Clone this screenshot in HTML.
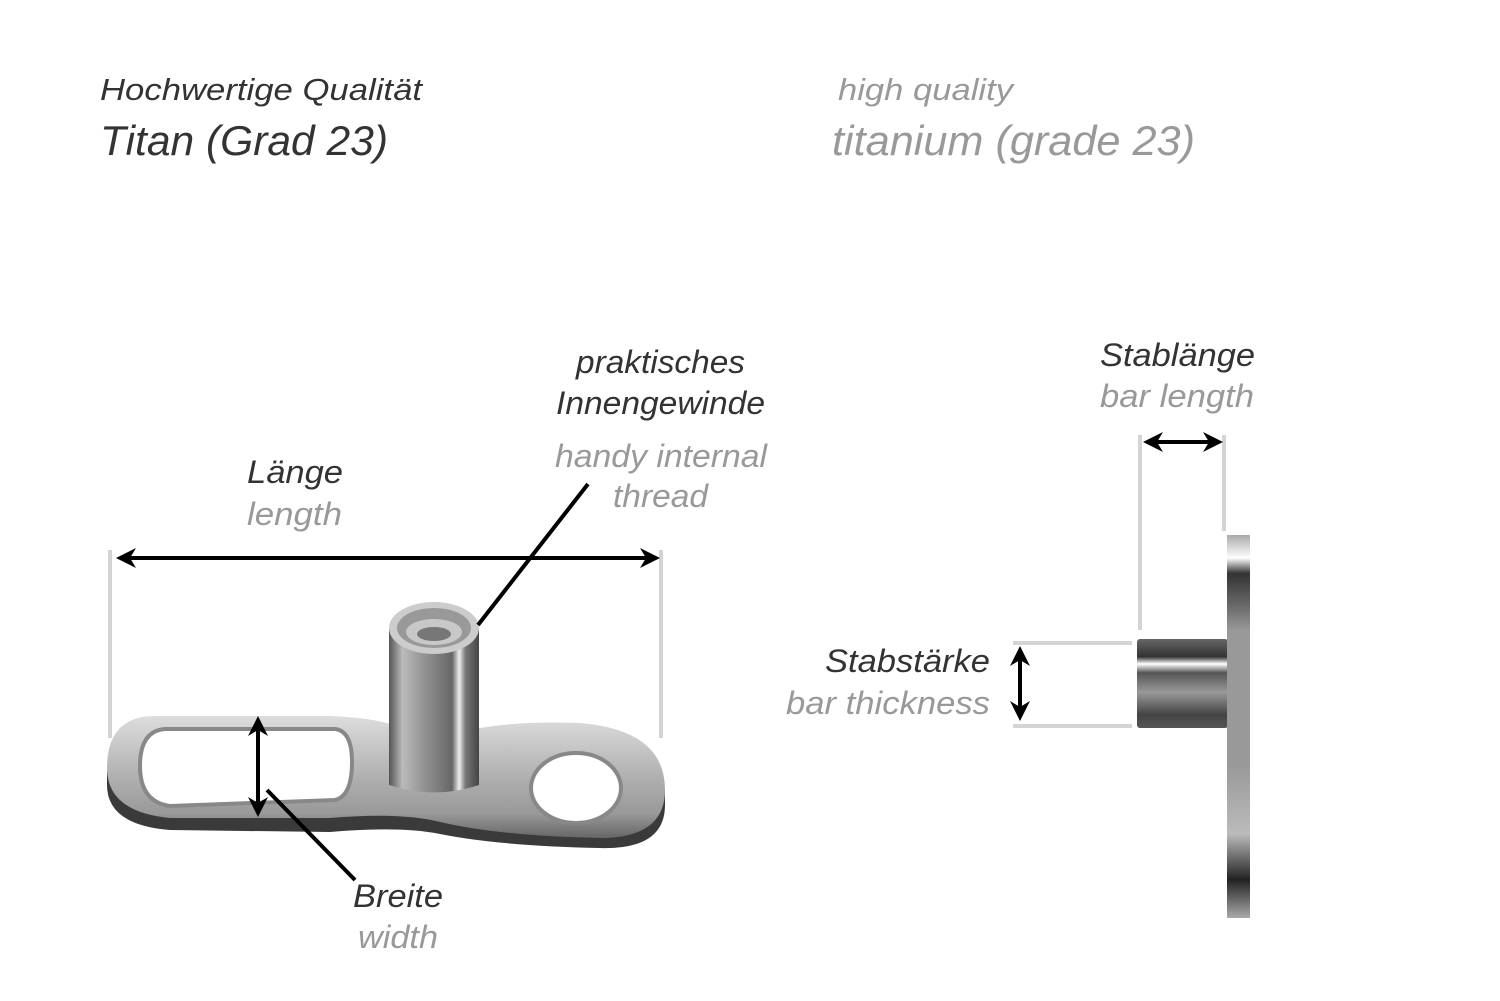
<!DOCTYPE html>
<html><head><meta charset="utf-8"><style>
html,body{margin:0;padding:0;background:#fff;}
svg{display:block;}
text{font-family:"Liberation Sans",sans-serif;font-style:italic;}
.d{fill:#333;}
.g{fill:#999;}
</style></head><body>
<svg width="1500" height="1001" viewBox="0 0 1500 1001" xmlns="http://www.w3.org/2000/svg">
<defs>
<linearGradient id="post" x1="0" x2="1" y1="0" y2="0">
<stop offset="0" stop-color="#555"/><stop offset="0.15" stop-color="#bbb"/><stop offset="0.35" stop-color="#999"/><stop offset="0.7" stop-color="#666"/><stop offset="0.78" stop-color="#eee"/><stop offset="0.85" stop-color="#777"/><stop offset="1" stop-color="#444"/>
</linearGradient>
<linearGradient id="plate" x1="0" x2="0" y1="0" y2="1">
<stop offset="0" stop-color="#ddd"/><stop offset="0.5" stop-color="#b0b0b0"/><stop offset="0.8" stop-color="#999"/><stop offset="1" stop-color="#666"/>
</linearGradient>
<linearGradient id="side" x1="0" x2="0" y1="0" y2="1">
<stop offset="0" stop-color="#aaa"/><stop offset="0.06" stop-color="#fff"/><stop offset="0.1" stop-color="#333"/><stop offset="0.18" stop-color="#666"/><stop offset="0.25" stop-color="#999"/><stop offset="0.6" stop-color="#999"/><stop offset="0.78" stop-color="#bbb"/><stop offset="0.9" stop-color="#222"/><stop offset="1" stop-color="#aaa"/>
</linearGradient>
<linearGradient id="bar" x1="0" x2="0" y1="0" y2="1">
<stop offset="0" stop-color="#666"/><stop offset="0.2" stop-color="#333"/><stop offset="0.28" stop-color="#fff"/><stop offset="0.38" stop-color="#555"/><stop offset="0.6" stop-color="#999"/><stop offset="0.85" stop-color="#444"/><stop offset="1" stop-color="#555"/>
</linearGradient>
<marker id="ah" viewBox="0 0 10 10" refX="8" refY="5" markerWidth="5" markerHeight="5" orient="auto-start-reverse"><path d="M0,0 L10,5 L0,10 L3,5 z" fill="#000"/></marker>
</defs>

<text class="d" x="100" y="100" font-size="31" textLength="322" lengthAdjust="spacingAndGlyphs">Hochwertige Qualität</text>
<text class="d" x="100" y="155" font-size="42" textLength="288" lengthAdjust="spacingAndGlyphs">Titan (Grad 23)</text>
<text class="g" x="838" y="100" font-size="31" textLength="175" lengthAdjust="spacingAndGlyphs">high quality</text>
<text class="g" x="832" y="155" font-size="42" textLength="363" lengthAdjust="spacingAndGlyphs">titanium (grade 23)</text>

<g font-size="32">
<text class="d" x="576" y="373" textLength="169" lengthAdjust="spacingAndGlyphs">praktisches</text>
<text class="d" x="556" y="414" textLength="209" lengthAdjust="spacingAndGlyphs">Innengewinde</text>
<text class="g" x="555" y="467" textLength="212" lengthAdjust="spacingAndGlyphs">handy internal</text>
<text class="g" x="613" y="507" textLength="95" lengthAdjust="spacingAndGlyphs">thread</text>
<text class="d" x="247" y="483" textLength="96" lengthAdjust="spacingAndGlyphs">Länge</text>
<text class="g" x="247" y="525" textLength="95" lengthAdjust="spacingAndGlyphs">length</text>
<text class="d" x="353" y="907" textLength="90" lengthAdjust="spacingAndGlyphs">Breite</text>
<text class="g" x="358" y="948" textLength="80" lengthAdjust="spacingAndGlyphs">width</text>
<text class="d" x="825" y="672" textLength="165" lengthAdjust="spacingAndGlyphs">Stabstärke</text>
<text class="g" x="786" y="714" textLength="204" lengthAdjust="spacingAndGlyphs">bar thickness</text>
<text class="d" x="1100" y="366" textLength="155" lengthAdjust="spacingAndGlyphs">Stablänge</text>
<text class="g" x="1100" y="407" textLength="154" lengthAdjust="spacingAndGlyphs">bar length</text>
</g>

<rect x="108" y="550" width="4" height="188" fill="#d4d4d4"/>
<rect x="659" y="550" width="4" height="188" fill="#d4d4d4"/>
<line x1="120" y1="558" x2="656" y2="558" stroke="#000" stroke-width="4" marker-start="url(#ah)" marker-end="url(#ah)"/>

<!-- base plate -->
<path d="M107,785 Q107,825 170,830 L330,832 Q400,826 440,834 Q500,846 600,848 Q665,850 665,805 L665,790 L107,772 Z" fill="#3a3a3a"/>
<path d="M155,716 L330,716 Q380,718 400,728 L480,728 Q520,721 580,723 Q665,730 665,790 Q665,838 600,838 Q500,836 440,822 Q400,812 330,818 L170,818 Q107,812 107,768 Q107,716 155,716 Z" fill="url(#plate)"/>
<path d="M165,729 L335,729 Q352,731 352,762 Q352,796 335,800 L170,806 Q140,802 140,766 Q140,731 165,729 Z" fill="#fff" stroke="#888" stroke-width="4"/>
<ellipse cx="576" cy="788" rx="45" ry="35" fill="#fff" stroke="#888" stroke-width="4"/>

<!-- post -->
<path d="M389,628 L389,785 Q434,800 479,785 L479,628 Z" fill="url(#post)"/>
<ellipse cx="434" cy="628" rx="45" ry="26" fill="#ccc"/>
<ellipse cx="434" cy="628" rx="37" ry="20" fill="#999"/>
<ellipse cx="434" cy="632" rx="28" ry="13" fill="#c8c8c8"/>
<ellipse cx="434" cy="634" rx="17" ry="7" fill="#777"/>

<line x1="588" y1="484" x2="478" y2="625" stroke="#000" stroke-width="4"/>
<line x1="258" y1="720" x2="258" y2="813" stroke="#000" stroke-width="4" marker-start="url(#ah)" marker-end="url(#ah)"/>
<line x1="267" y1="790" x2="355" y2="880" stroke="#000" stroke-width="4"/>

<rect x="1138" y="435" width="4" height="195" fill="#d4d4d4"/>
<rect x="1222" y="435" width="4" height="96" fill="#d4d4d4"/>
<rect x="1013" y="641" width="119" height="4" fill="#d4d4d4"/>
<rect x="1013" y="724" width="119" height="4" fill="#d4d4d4"/>
<line x1="1147" y1="442" x2="1219" y2="442" stroke="#000" stroke-width="4" marker-start="url(#ah)" marker-end="url(#ah)"/>
<line x1="1020" y1="650" x2="1020" y2="717" stroke="#000" stroke-width="4" marker-start="url(#ah)" marker-end="url(#ah)"/>
<rect x="1137" y="639" width="91" height="89" rx="3" fill="url(#bar)"/>
<rect x="1227" y="535" width="23" height="383" fill="url(#side)"/>
</svg>
</body></html>
